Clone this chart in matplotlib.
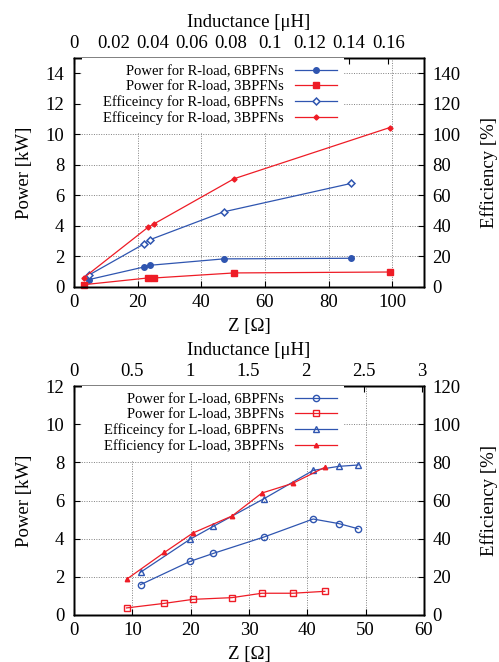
import matplotlib
matplotlib.use("Agg")
import matplotlib.pyplot as plt
from matplotlib.patches import Rectangle

plt.rcParams['font.family'] = ['Liberation Serif', 'DejaVu Serif']

BLUE = '#2f55b0'
RED = '#ee1c26'

# ---- Top chart: R-load ----
r_z6 = [4.6, 22.0, 23.8, 47.0, 87.0]
r_p6 = [0.48, 1.31, 1.42, 1.84, 1.88]
r_e6 = [7.7, 28.2, 30.9, 49.2, 67.8]
r_z3 = [3.1, 23.2, 25.2, 50.3, 99.2]
r_p3 = [0.15, 0.59, 0.59, 0.92, 0.98]
r_e3 = [6.1, 39.0, 41.4, 70.9, 104.4]
r_labels = ['Power for R-load, 6BPFNs', 'Power for R-load, 3BPFNs',
            'Efficeincy for R-load, 6BPFNs', 'Efficeincy for R-load, 3BPFNs']

# ---- Bottom chart: L-load ----
l_z6 = [11.4, 19.9, 23.9, 32.6, 41.0, 45.4, 48.7]
l_p6 = [1.59, 2.81, 3.23, 4.09, 5.03, 4.79, 4.52]
l_e6 = [22.4, 39.7, 46.5, 61.0, 75.8, 77.9, 78.6]
l_z3 = [9.0, 15.5, 20.4, 27.1, 32.2, 37.5, 43.0]
l_p3 = [0.37, 0.61, 0.82, 0.91, 1.14, 1.14, 1.24]
l_e3 = [18.7, 32.8, 43.0, 51.9, 63.9, 69.0, 77.4]
l_labels = ['Power for L-load, 6BPFNs', 'Power for L-load, 3BPFNs',
            'Efficeincy for L-load, 6BPFNs', 'Efficiency for L-load, 3BPFNs']

fig = plt.figure(figsize=(4.99, 6.62), dpi=100)

FS = 13.5
LFS = 10.5
LW = 0.9


def setup(rect, xlim, xticks, top_lim, top_ticks, top_ticklabels, ylim, yticks, y2lim, y2ticks):
    ax = fig.add_axes(rect)
    ax.set_xlim(*xlim)
    ax.set_ylim(*ylim)
    ax.set_xticks(xticks)
    ax.set_yticks(yticks)
    ax.tick_params(axis='both', direction='in', length=4, width=0.8, labelsize=FS,
                   top=False, right=False)
    ax.tick_params(axis='y', pad=7)
    ax.tick_params(axis='x', pad=5)
    ax.grid(True, color='#808080', linestyle=(0, (1, 1.5)), linewidth=0.7)
    ax.set_axisbelow(True)
    ax.set_xlabel('Z [Ω]', fontsize=FS, labelpad=5)
    ax.set_ylabel('Power [kW]', fontsize=FS, labelpad=9)
    axr = ax.twinx()
    axr.set_ylim(*y2lim)
    axr.set_yticks(y2ticks)
    axr.tick_params(axis='y', direction='in', length=4, width=0.8, labelsize=FS, pad=6)
    axr.set_ylabel('Efficiency [%]', fontsize=FS, labelpad=14)
    axt = ax.twiny()
    axt.set_xlim(*top_lim)
    axt.set_xticks(top_ticks)
    axt.set_xticklabels(top_ticklabels)
    axt.tick_params(axis='x', direction='in', length=4, width=0.8, labelsize=FS, pad=4)
    axt.set_xlabel('Inductance [μH]', fontsize=FS, labelpad=6)
    for a in (ax, axr, axt):
        for s in a.spines.values():
            s.set_linewidth(1.0)
    return ax, axr, axt


def add_legend(axt, handles, labels):
    # opaque key area like gnuplot's (hides grid behind the key)
    axt.add_patch(Rectangle((0.023, 0.70), 0.77 - 0.023, 0.30, transform=axt.transAxes,
                            facecolor='white', edgecolor='none', zorder=4))
    leg = axt.legend(handles, labels, loc='upper right', bbox_to_anchor=(0.77, 1.0),
                     borderaxespad=0, frameon=True, fancybox=False, framealpha=1,
                     facecolor='white', edgecolor='none', fontsize=LFS,
                     markerfirst=False, handlelength=2.9, handletextpad=0.75,
                     labelspacing=0.15, borderpad=0.45)
    for col in leg._legend_handle_box.get_children():
        col.align = 'right'
    return leg


# ---------- Top axes ----------
ax1, ax1r, ax1t = setup([0.1483, 0.5665, 0.7014, 0.3459],
                        (0, 110), [0, 20, 40, 60, 80, 100],
                        (0, 0.1782), [0, 0.02, 0.04, 0.06, 0.08, 0.1, 0.12, 0.14, 0.16],
                        ['0', '0.02', '0.04', '0.06', '0.08', '0.1', '0.12', '0.14', '0.16'],
                        (0, 15), [0, 2, 4, 6, 8, 10, 12, 14],
                        (0, 150), [0, 20, 40, 60, 80, 100, 120, 140])

h1, = ax1.plot(r_z6, r_p6, color=BLUE, lw=LW, marker='o', ms=4, mfc=BLUE, mec=BLUE)
h2, = ax1.plot(r_z3, r_p3, color=RED, lw=LW, marker='s', ms=4.5, mfc=RED, mec=RED)
h3, = ax1r.plot(r_z6, r_e6, color=BLUE, lw=LW, marker='D', ms=3.5, mfc='white', mec=BLUE, mew=1.1)
h4, = ax1r.plot(r_z3, r_e3, color=RED, lw=LW, marker='D', ms=2.6, mfc=RED, mec=RED)
for a in (ax1, ax1r):
    for ln in a.lines:
        ln.set_clip_on(False)
add_legend(ax1t, [h1, h2, h3, h4], r_labels)

# ---------- Bottom axes ----------
ax2, ax2r, ax2t = setup([0.1483, 0.0710, 0.7014, 0.3459],
                        (0, 60), [0, 10, 20, 30, 40, 50, 60],
                        (0, 3.02), [0, 0.5, 1, 1.5, 2, 2.5, 3],
                        ['0', '0.5', '1', '1.5', '2', '2.5', '3'],
                        (0, 12), [0, 2, 4, 6, 8, 10, 12],
                        (0, 120), [0, 20, 40, 60, 80, 100, 120])

g1, = ax2.plot(l_z6, l_p6, color=BLUE, lw=LW, marker='o', ms=4.5, mfc='none', mec=BLUE, mew=1.0)
g2, = ax2.plot(l_z3, l_p3, color=RED, lw=LW, marker='s', ms=4.2, mfc='none', mec=RED, mew=1.0)
g3, = ax2r.plot(l_z6, l_e6, color=BLUE, lw=LW, marker='^', ms=4.5, mfc='none', mec=BLUE, mew=1.0)
g4, = ax2r.plot(l_z3, l_e3, color=RED, lw=LW, marker='^', ms=3.2, mfc=RED, mec=RED)
add_legend(ax2t, [g1, g2, g3, g4], l_labels)

fig.savefig('out.png', dpi=100)
